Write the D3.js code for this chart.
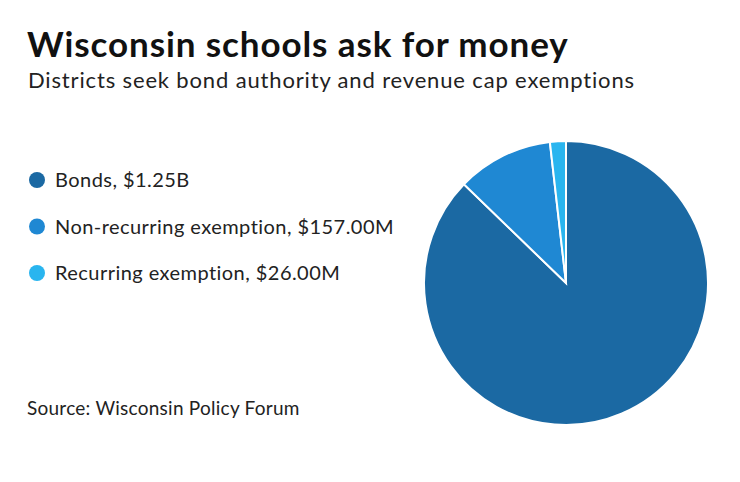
<!DOCTYPE html>
<html>
<head>
<meta charset="utf-8">
<script src="https://cdn.jsdelivr.net/npm/d3@7"></script>
<style>
  body { margin: 0; background: #fff; }
  text { font-family: Lato, "Open Sans", sans-serif; }
</style>
</head>
<body>
<div id="chart"></div>
<script>
var categories = ["Bonds", "Non-recurring exemption", "Recurring exemption"];
var values = [1250, 157, 26];
var valueLabels = ["$1.25B", "$157.00M", "$26.00M"];
var colors = ["#1b69a3", "#1f88d3", "#29b5ef"];

var width = 740, height = 482;

var svg = d3.select("#chart").append("svg")
    .attr("width", width)
    .attr("height", height);

// title and subtitle
svg.append("text")
    .attr("x", 27).attr("y", 57)
    .style("font-size", "35px")
    .style("font-weight", "bold")
    .style("letter-spacing", "0.9px")
    .style("fill", "#111")
    .text("Wisconsin schools ask for money");

svg.append("text")
    .attr("x", 28).attr("y", 88)
    .style("font-size", "22px")
    .style("letter-spacing", "0.85px")
    .style("fill", "#222")
    .text("Districts seek bond authority and revenue cap exemptions");

// legend
var data = categories.map(function(c, i) {
  return { name: c, value: values[i], label: valueLabels[i], color: colors[i] };
});

var legendY = d3.scalePoint().domain(categories).range([180, 273]);

var legend = svg.selectAll(".legend")
    .data(data)
    .enter().append("g")
    .attr("class", "legend")
    .attr("transform", function(d) { return "translate(37," + legendY(d.name) + ")"; });

legend.append("circle")
    .attr("r", 8)
    .attr("fill", function(d) { return d.color; });

legend.append("text")
    .attr("x", 18)
    .attr("dy", "0.35em")
    .style("font-size", "20px")
    .style("letter-spacing", "0.45px")
    .style("fill", "#222")
    .text(function(d) { return d.name + ", " + d.label; });

svg.append("text")
    .attr("x", 27).attr("y", 415)
    .style("font-size", "19px")
    .style("letter-spacing", "0.25px")
    .style("fill", "#222")
    .text("Source: Wisconsin Policy Forum");

// pie
var pie = d3.pie().sort(null).value(function(d) { return d.value; });
var arc = d3.arc().innerRadius(0).outerRadius(142);

var g = svg.append("g").attr("transform", "translate(566,283)");

g.selectAll("path")
    .data(pie(data))
    .enter().append("path")
    .attr("d", arc)
    .attr("fill", function(d) { return d.data.color; })
    .attr("stroke", "#fff")
    .attr("stroke-width", 2);
</script>
</body>
</html>
